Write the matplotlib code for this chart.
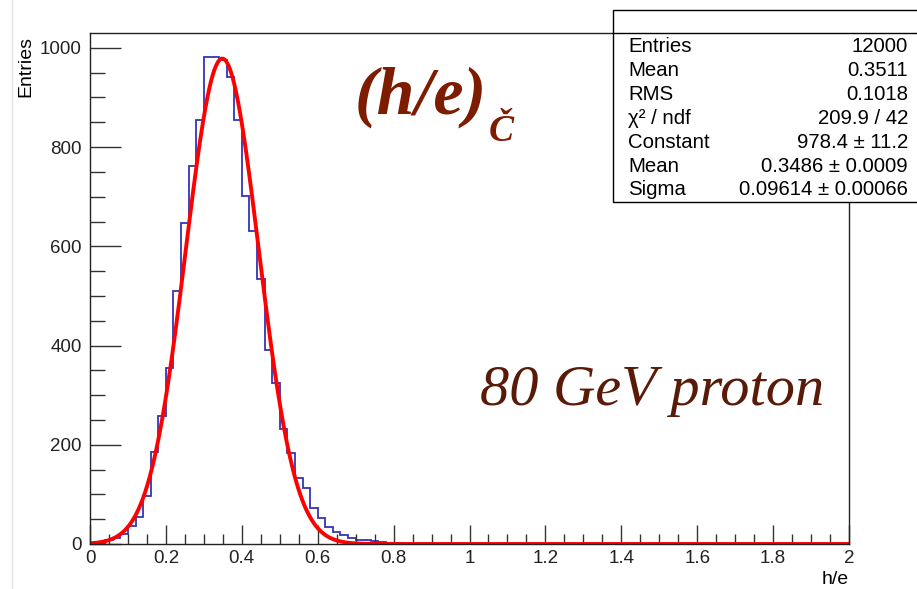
import numpy as np
import matplotlib.pyplot as plt
import matplotlib.patches as patches
from matplotlib.lines import Line2D
from matplotlib.ticker import MultipleLocator, FuncFormatter

plt.rcParams['font.family'] = ['Liberation Sans', 'DejaVu Sans']

# histogram of h/e: 100 bins from 0 to 2, counts
nbins = 100
x_range = (0.0, 2.0)
counts_low = [1, 3, 8, 13, 21, 36, 54, 97, 186, 257,
              355, 510, 647, 761, 855, 981, 982, 976, 942, 855,
              702, 630, 535, 392, 325, 231, 184, 134, 112, 73,
              53, 35, 25, 18, 13, 9, 8, 7, 5, 3,
              2, 1, 1, 0, 1]
counts = counts_low + [0] * (nbins - len(counts_low))

# gaussian fit parameters (stats box)
fit_const = 978.4
fit_mean = 0.3486
fit_sigma = 0.09614

stat_names = ['Entries', 'Mean', 'RMS', 'χ² / ndf', 'Constant', 'Mean', 'Sigma']
stat_values = ['12000', '0.3511', '0.1018', '209.9 / 42',
               '978.4 ± 11.2', '0.3486 ± 0.0009', '0.09614 ± 0.00066']

W, H = 917, 589
fig = plt.figure(figsize=(W / 100, H / 100), dpi=100)

def fx(px):
    return px / W

def fy(py):
    return 1 - py / H

ax = fig.add_axes([fx(90), fy(544), fx(849) - fx(90), fy(33) - fy(544)])

edges = np.linspace(x_range[0], x_range[1], nbins + 1)
ax.stairs(counts, edges, color='#3434b8', lw=1.3, baseline=0)

xf = np.linspace(0, 2, 1001)
yf = fit_const * np.exp(-0.5 * ((xf - fit_mean) / fit_sigma) ** 2)
ax.plot(xf, yf, color='#ff0000', lw=2.8, solid_joinstyle='round')

ax.set_xlim(0, 2)
ax.set_ylim(0, 1030)

ax.xaxis.set_major_locator(MultipleLocator(0.2))
ax.xaxis.set_minor_locator(MultipleLocator(0.05))
ax.yaxis.set_major_locator(MultipleLocator(200))
ax.yaxis.set_minor_locator(MultipleLocator(50))
ax.xaxis.set_major_formatter(FuncFormatter(lambda v, p: '%g' % round(v, 3)))
ax.yaxis.set_major_formatter(FuncFormatter(lambda v, p: '%d' % v))

ax.tick_params(axis='both', which='both', direction='in', top=False, right=False,
               labelsize=13.5, width=1.0, color='#333333', labelcolor='#222222')
ax.tick_params(axis='x', which='major', length=14, pad=4)
ax.tick_params(axis='x', which='minor', length=7)
ax.tick_params(axis='y', which='major', length=22, pad=6)
ax.tick_params(axis='y', which='minor', length=11)
for s in ax.spines.values():
    s.set_linewidth(1.0)
    s.set_color('#222222')

# axis titles
fig.text(fx(849), fy(579), 'h/e', ha='right', va='center', fontsize=14)
fig.text(fx(26), fy(36), 'Entries', ha='center', va='top', rotation=90, fontsize=14)

# faint pad border on the left
fig.add_artist(Line2D([fx(12), fx(12)], [0, 1], color='#e4e4e4', lw=1.0))

# stats box
box = patches.Rectangle((fx(613), fy(202)), fx(930) - fx(613), fy(10) - fy(202),
                        transform=fig.transFigure, facecolor='white',
                        edgecolor='black', lw=1.0, clip_on=False, zorder=5)
fig.add_artist(box)
fig.add_artist(Line2D([fx(613), 1], [fy(33), fy(33)], color='black', lw=1.0, zorder=6))
row_y = [47, 71, 95, 119, 143, 167, 190]
for name, val, py in zip(stat_names, stat_values, row_y):
    fig.text(fx(628), fy(py), name, ha='left', va='center', fontsize=14.7, zorder=7)
    fig.text(fx(908), fy(py), val, ha='right', va='center', fontsize=14.7, zorder=7)

# annotations
fig.text(fx(355), fy(114), '(h/e)', ha='left', va='baseline', fontsize=49,
         family='Liberation Serif', style='italic', weight='bold', color='#7d1c00')
fig.text(fx(489), fy(141), 'Č', ha='left', va='baseline', fontsize=27,
         family='Liberation Serif', style='italic', weight='bold', color='#7d1c00')
fig.text(fx(480), fy(405), '80 GeV proton', ha='left', va='baseline', fontsize=42,
         family='Liberation Serif', style='italic', color='#5a1a08')

fig.savefig('out.png', dpi=100)
